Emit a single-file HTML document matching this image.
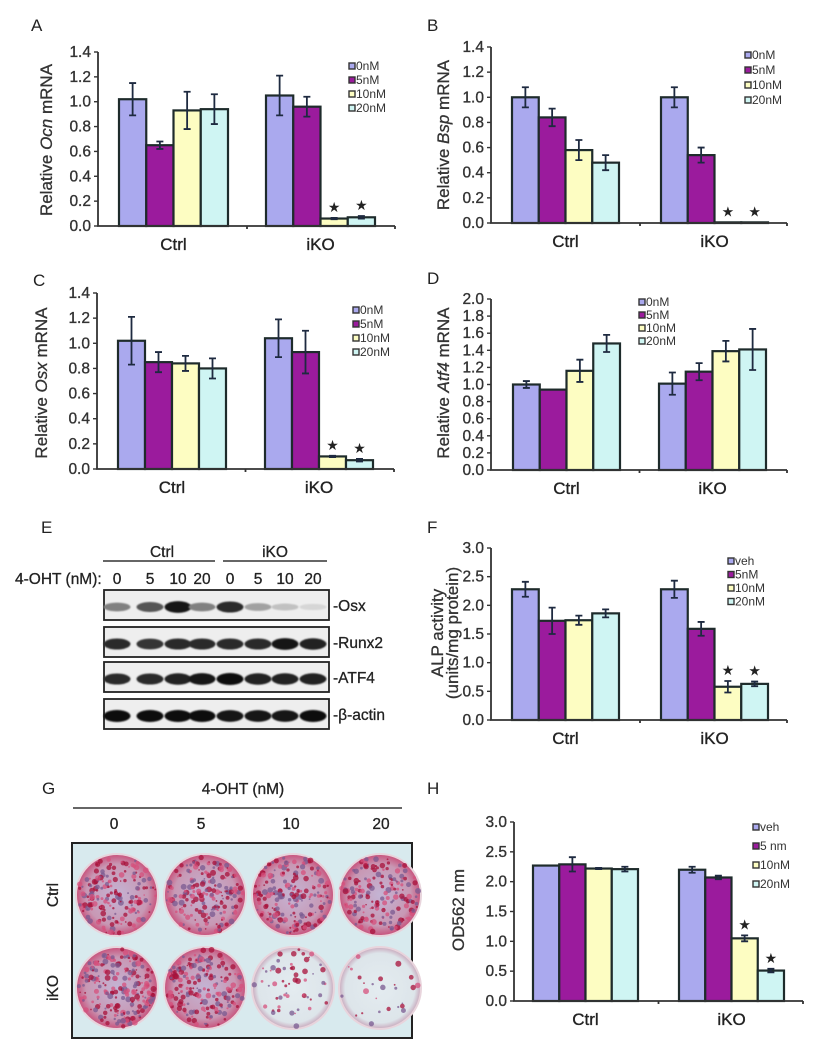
<!DOCTYPE html>
<html><head><meta charset="utf-8"><style>
html,body{margin:0;padding:0;background:#fff;}
svg{display:block;font-family:"Liberation Sans",Arial,sans-serif;}
</style></head><body>
<svg id="fig" width="819" height="1050" viewBox="0 0 819 1050" xmlns="http://www.w3.org/2000/svg">
<defs>
<filter id="blur1"><feGaussianBlur stdDeviation="1.2"/></filter>
<filter id="blur05"><feGaussianBlur stdDeviation="0.9"/></filter>
<radialGradient id="wellA" cx="50%" cy="50%" r="50%"><stop offset="0" stop-color="#c4b4d4"/><stop offset="0.75" stop-color="#c898b4"/><stop offset="1" stop-color="#c8507a"/></radialGradient>
<radialGradient id="wellB" cx="50%" cy="50%" r="50%"><stop offset="0" stop-color="#e4ecf0"/><stop offset="0.85" stop-color="#dde5ea"/><stop offset="1" stop-color="#c8a8bc"/></radialGradient>
</defs>
<g id="letters" font-size="17" fill="#222">
<text x="31" y="31">A</text>
<text x="427" y="31">B</text>
<text x="33" y="286">C</text>
<text x="427" y="284">D</text>
<text x="41" y="533">E</text>
<text x="427" y="533">F</text>
<text x="42" y="794">G</text>
<text x="427" y="794">H</text>
</g>
<g id="charts"></g>
<g id="blot"></g>
<g id="plates"></g>
</svg>
<script>
// ---- data ----
const categories = ["Ctrl", "iKO"];
const aCtrl = [1.02, 0.65, 0.93, 0.94];
const aCtrlErr = [0.13, 0.03, 0.15, 0.12];
const aIko = [1.05, 0.96, 0.06, 0.07];
const aIkoErr = [0.16, 0.08, 0.005, 0.01];
const bCtrl = [1.0, 0.84, 0.58, 0.48];
const bCtrlErr = [0.08, 0.07, 0.08, 0.06];
const bIko = [1.0, 0.54, 0.005, 0.005];
const bIkoErr = [0.08, 0.06, 0, 0];
const cCtrl = [1.02, 0.85, 0.84, 0.80];
const cCtrlErr = [0.19, 0.08, 0.06, 0.08];
const cIko = [1.04, 0.93, 0.10, 0.07];
const cIkoErr = [0.15, 0.17, 0.005, 0.01];
const dCtrl = [1.0, 0.94, 1.16, 1.48];
const dCtrlErr = [0.04, 0, 0.13, 0.10];
const dIko = [1.01, 1.15, 1.39, 1.41];
const dIkoErr = [0.13, 0.10, 0.12, 0.24];
const fCtrl = [2.28, 1.73, 1.74, 1.86];
const fCtrlErr = [0.13, 0.23, 0.08, 0.07];
const fIko = [2.28, 1.59, 0.58, 0.63];
const fIkoErr = [0.15, 0.12, 0.10, 0.04];
const hCtrl = [2.27, 2.29, 2.22, 2.21];
const hCtrlErr = [0, 0.12, 0.01, 0.04];
const hIko = [2.20, 2.07, 1.05, 0.51];
const hIkoErr = [0.05, 0.03, 0.05, 0.03];
const starsIko = [false, false, true, true];
const starsNone = [false, false, false, false];
const ticks14 = ["0.0","0.2","0.4","0.6","0.8","1.0","1.2","1.4"];
const ticks20 = ["0.0","0.2","0.4","0.6","0.8","1.0","1.2","1.4","1.6","1.8","2.0"];
const ticks30 = ["0.0","0.5","1.0","1.5","2.0","2.5","3.0"];
const legendNm = ["0nM","5nM","10nM","20nM"];
const legendVeh = ["veh","5nM","10nM","20nM"];
const legendVehH = ["veh","5 nm","10nM","20nM"];
const blotLanes = ["0","5","10","20","0","5","10","20"];
const osxBand = [0.45, 0.65, 0.95, 0.45, 0.85, 0.3, 0.15, 0.05];
const runxBand = [0.85, 0.8, 0.85, 0.85, 0.85, 0.85, 0.95, 0.9];
const atfBand = [0.85, 0.85, 0.9, 0.95, 1.0, 0.9, 0.9, 0.9];
const actinBand = [1, 1, 1, 1, 0.95, 0.95, 0.95, 1];
const plateDoses = ["0","5","10","20"];
const plateCtrlStain = [0.8, 0.85, 0.85, 0.75];
const plateIkoStain = [0.95, 0.85, 0.25, 0.12];

const colors = ["#aaa9ee", "#9b1b9d", "#fdfdc2", "#cff5f3"];
const NS = "http://www.w3.org/2000/svg";
function mk(tag, attrs, parent){ const e=document.createElementNS(NS,tag); for(const k in attrs) e.setAttribute(k,attrs[k]); parent.appendChild(e); return e; }

const charts = document.getElementById('charts');

function drawChart(p){
  const g = mk('g',{},charts);
  
  
  const yScale = v => p.y0 - (v / p.ymax) * (p.y0 - p.y1);
  const groups = [[p.ctrl,p.ctrlErr,p.gx[0],starsNone],[p.iko,p.ikoErr,p.gx[1],p.stars]];
  groups.forEach((gr,gi)=>{
    const bw = p.gw/4;
    gr[0].forEach((v,i)=>{
      const x = gr[2] + i*bw;
      const r = mk('rect',{x:x,y:yScale(v),width:bw,height:p.y0-yScale(v),fill:colors[i],stroke:"#1e2b2b","stroke-width":2.2},g);
      
      
      const e = gr[1][i];
      if(e>0){
        const cx = x+bw/2, ya=yScale(v+e), yb=yScale(v-e);
        const eb = mk('path',{d:`M${cx},${ya}V${yb}M${cx-3.5},${ya}H${cx+3.5}M${cx-3.5},${yb}H${cx+3.5}`,stroke:"#1e2a40","stroke-width":1.8,fill:"none"},g);
        
        
      }
      if(gr[3][i]){
        const st = mk('text',{x:x+bw/2,y:yScale(v+e)-6,"text-anchor":"middle","font-size":14,fill:"#222"},g);
        st.textContent = "★";
        
        
      }
    });
    const cl = mk('text',{x:gr[2]+p.gw/2,y:p.y0+24,"text-anchor":"middle","font-size":17,fill:"#222","stroke":"#222","stroke-width":0.35},g);
    cl.textContent = categories[gi];
    
    
  });
  const ax = mk('path',{d:`M${p.ax},${p.y1}V${p.y0}H${p.xend}M${(p.gx[0]+p.gw+p.gx[1])/2},${p.y0}v3M${p.xend},${p.y0}v3`,stroke:"#333","stroke-width":1.8,fill:"none"},g);
  
  
  p.ticks.forEach(t=>{
    const y = yScale(parseFloat(t));
    mk('line',{x1:p.ax-4,x2:p.ax,y1:y,y2:y,stroke:"#333","stroke-width":1.4},g);
    const tl = mk('text',{x:p.ax-7,y:y+5,"text-anchor":"end","font-size":15.5,fill:"#333","stroke":"#333","stroke-width":0.35},g);
    tl.textContent = t;
    
    
  });
  p.title.forEach((line,li)=>{
    const tx = p.tx + li*15;
    const tt = mk('text',{x:tx,y:p.ty,"text-anchor":"middle","font-size":17,fill:"#333","stroke":"#333","stroke-width":0.3,transform:`rotate(-90 ${tx} ${p.ty})`},g);
    tt.innerHTML = line;
    
    
  });
  p.legend.forEach((l,i)=>{
    const y = p.ly + i*p.ls;
    const lg = mk('g',{},g);
    
    
    mk('rect',{x:p.lx,y:y-7,width:6,height:6,fill:colors[i],stroke:"#333","stroke-width":1.4},lg);
    const t = mk('text',{x:p.lx+7,y:y,"font-size":12,fill:"#333"},lg);
    t.textContent = l;
  });
}

drawChart({id:"chart-ocn",ctrl:aCtrl,ctrlErr:aCtrlErr,iko:aIko,ikoErr:aIkoErr,stars:starsIko,ymax:1.4,y0:226,y1:52,ax:98,xend:395,gx:[119,266],gw:109,ticks:ticks14,title:['Relative <tspan font-style="italic">Ocn</tspan> mRNA'],tx:52,ty:140,legend:legendNm,lx:349,ly:70,ls:14});
drawChart({id:"chart-bsp",ctrl:bCtrl,ctrlErr:bCtrlErr,iko:bIko,ikoErr:bIkoErr,stars:starsIko,ymax:1.4,y0:223,y1:47,ax:491,xend:787,gx:[512,661],gw:107,ticks:ticks14,title:['Relative <tspan font-style="italic">Bsp</tspan> mRNA'],tx:449,ty:135,legend:legendNm,lx:745,ly:59,ls:15});
drawChart({id:"chart-osx",ctrl:cCtrl,ctrlErr:cCtrlErr,iko:cIko,ikoErr:cIkoErr,stars:starsIko,ymax:1.4,y0:469,y1:293,ax:97,xend:394,gx:[118,265],gw:108,ticks:ticks14,title:['Relative <tspan font-style="italic">Osx</tspan> mRNA'],tx:47,ty:383,legend:legendNm,lx:353,ly:314,ls:14});
drawChart({id:"chart-atf4",ctrl:dCtrl,ctrlErr:dCtrlErr,iko:dIko,ikoErr:dIkoErr,stars:starsNone,ymax:2.0,y0:470,y1:299,ax:491,xend:787,gx:[513,659],gw:107,ticks:ticks20,title:['Relative <tspan font-style="italic">Atf4</tspan> mRNA'],tx:449,ty:383,legend:legendNm,lx:639,ly:306,ls:13});
drawChart({id:"chart-alp",ctrl:fCtrl,ctrlErr:fCtrlErr,iko:fIko,ikoErr:fIkoErr,stars:starsIko,ymax:3.0,y0:720,y1:548,ax:491,xend:787,gx:[512,661],gw:107,ticks:ticks30,title:['ALP activity','(units/mg protein)'],tx:443,ty:633,legend:legendVeh,lx:728,ly:565,ls:13.5});
drawChart({id:"chart-od562",ctrl:hCtrl,ctrlErr:hCtrlErr,iko:hIko,ikoErr:hIkoErr,stars:starsIko,ymax:3.0,y0:1001,y1:822,ax:514,xend:803,gx:[533,679],gw:105,ticks:ticks30,title:['OD562 nm'],tx:464,ty:910,legend:legendVehH,lx:753,ly:831,ls:19});

// ---- western blot ----
const blot = document.getElementById('blot');
const laneX = [117,150,178,202,230,258,285,313];
(function(){
  let t = mk('text',{x:162,y:557,"text-anchor":"middle","font-size":15.5,fill:"#222","stroke":"#222","stroke-width":0.3},blot); t.textContent="Ctrl";
  t = mk('text',{x:275,y:557,"text-anchor":"middle","font-size":15.5,fill:"#222","stroke":"#222","stroke-width":0.3},blot); t.textContent="iKO";
  mk('path',{d:"M103,561H215M223,561H327",stroke:"#333","stroke-width":1.6},blot);
  t = mk('text',{x:15,y:584,"font-size":15.5,fill:"#222","stroke":"#222","stroke-width":0.3},blot); t.textContent="4-OHT (nM):";
  blotLanes.forEach((l,i)=>{ const tt=mk('text',{x:laneX[i],y:584,"text-anchor":"middle","font-size":15.5,fill:"#222","stroke":"#222","stroke-width":0.3},blot); tt.textContent=l; });
  const rows = [["Osx",osxBand,590],["Runx2",runxBand,627],["ATF4",atfBand,662],["β-actin",actinBand,699]];
  rows.forEach(r=>{
    const rg = mk('g',{},blot);
    
    
    mk('rect',{x:104,y:r[2],width:225,height:30,fill:"#eeeeee",stroke:"#222","stroke-width":1.8},rg);
    r[1].forEach((v,i)=>{
      const g = Math.round(225 - 215*v);
      mk('ellipse',{cx:laneX[i],cy:r[2]+17,rx:13.5,ry:3+3*v,fill:`rgb(${g},${g},${g})`,filter:"url(#blur05)"},rg);
    });
    const lt = mk('text',{x:333,y:r[2]+21,"font-size":15.5,fill:"#222","stroke":"#222","stroke-width":0.3},rg); lt.textContent="-"+r[0];
  });
})();

// ---- plates ----
const plates = document.getElementById('plates');
(function(){
  let t = mk('text',{x:243,y:794,"text-anchor":"middle","font-size":15.5,fill:"#222","stroke":"#222","stroke-width":0.3},plates); t.textContent="4-OHT (nM)";
  mk('line',{x1:73,x2:402,y1:808,y2:808,stroke:"#333","stroke-width":1.6},plates);
  const px=[114,201,291,381];
  plateDoses.forEach((d,i)=>{ const tt=mk('text',{x:px[i],y:829,"text-anchor":"middle","font-size":15.5,fill:"#222","stroke":"#222","stroke-width":0.3},plates); tt.textContent=d; });
  mk('rect',{x:72,y:843,width:340,height:195,fill:"#d8eaee",stroke:"#222","stroke-width":2},plates);
  t = mk('text',{x:58,y:895,"text-anchor":"middle","font-size":15.5,fill:"#222","stroke":"#222","stroke-width":0.3,transform:"rotate(-90 58 895)"},plates); t.textContent="Ctrl";
  t = mk('text',{x:58,y:988,"text-anchor":"middle","font-size":15.5,fill:"#222","stroke":"#222","stroke-width":0.3,transform:"rotate(-90 58 988)"},plates); t.textContent="iKO";
  let seed=7; const rnd=()=>{seed=(seed*9301+49297)%233280;return seed/233280;};
  [[895,plateCtrlStain],[988,plateIkoStain]].forEach(row=>{
    row[1].forEach((s,i)=>{
      const cx=[117,205,293,380][i], cy=row[0];
      const w = mk('g',{},plates);
      
      
      mk('circle',{cx:cx,cy:cy,r:41,fill:s>0.5?"url(#wellA)":"url(#wellB)",stroke:"#e8d4dc","stroke-width":2},w);
      const n = Math.round(220*s);
      for(let k=0;k<n;k++){
        const a=rnd()*6.283, rr=39*Math.sqrt(rnd());
        const c = rnd();
        mk('circle',{cx:cx+rr*Math.cos(a),cy:cy+rr*Math.sin(a),r:0.8+rnd()*2.2,fill:c<0.35?"#a8103a":(c<0.7?"#d6507c":"#7a5a90"),opacity:0.75},w);
      }
    });
  });
})();
</script>
</body></html>
